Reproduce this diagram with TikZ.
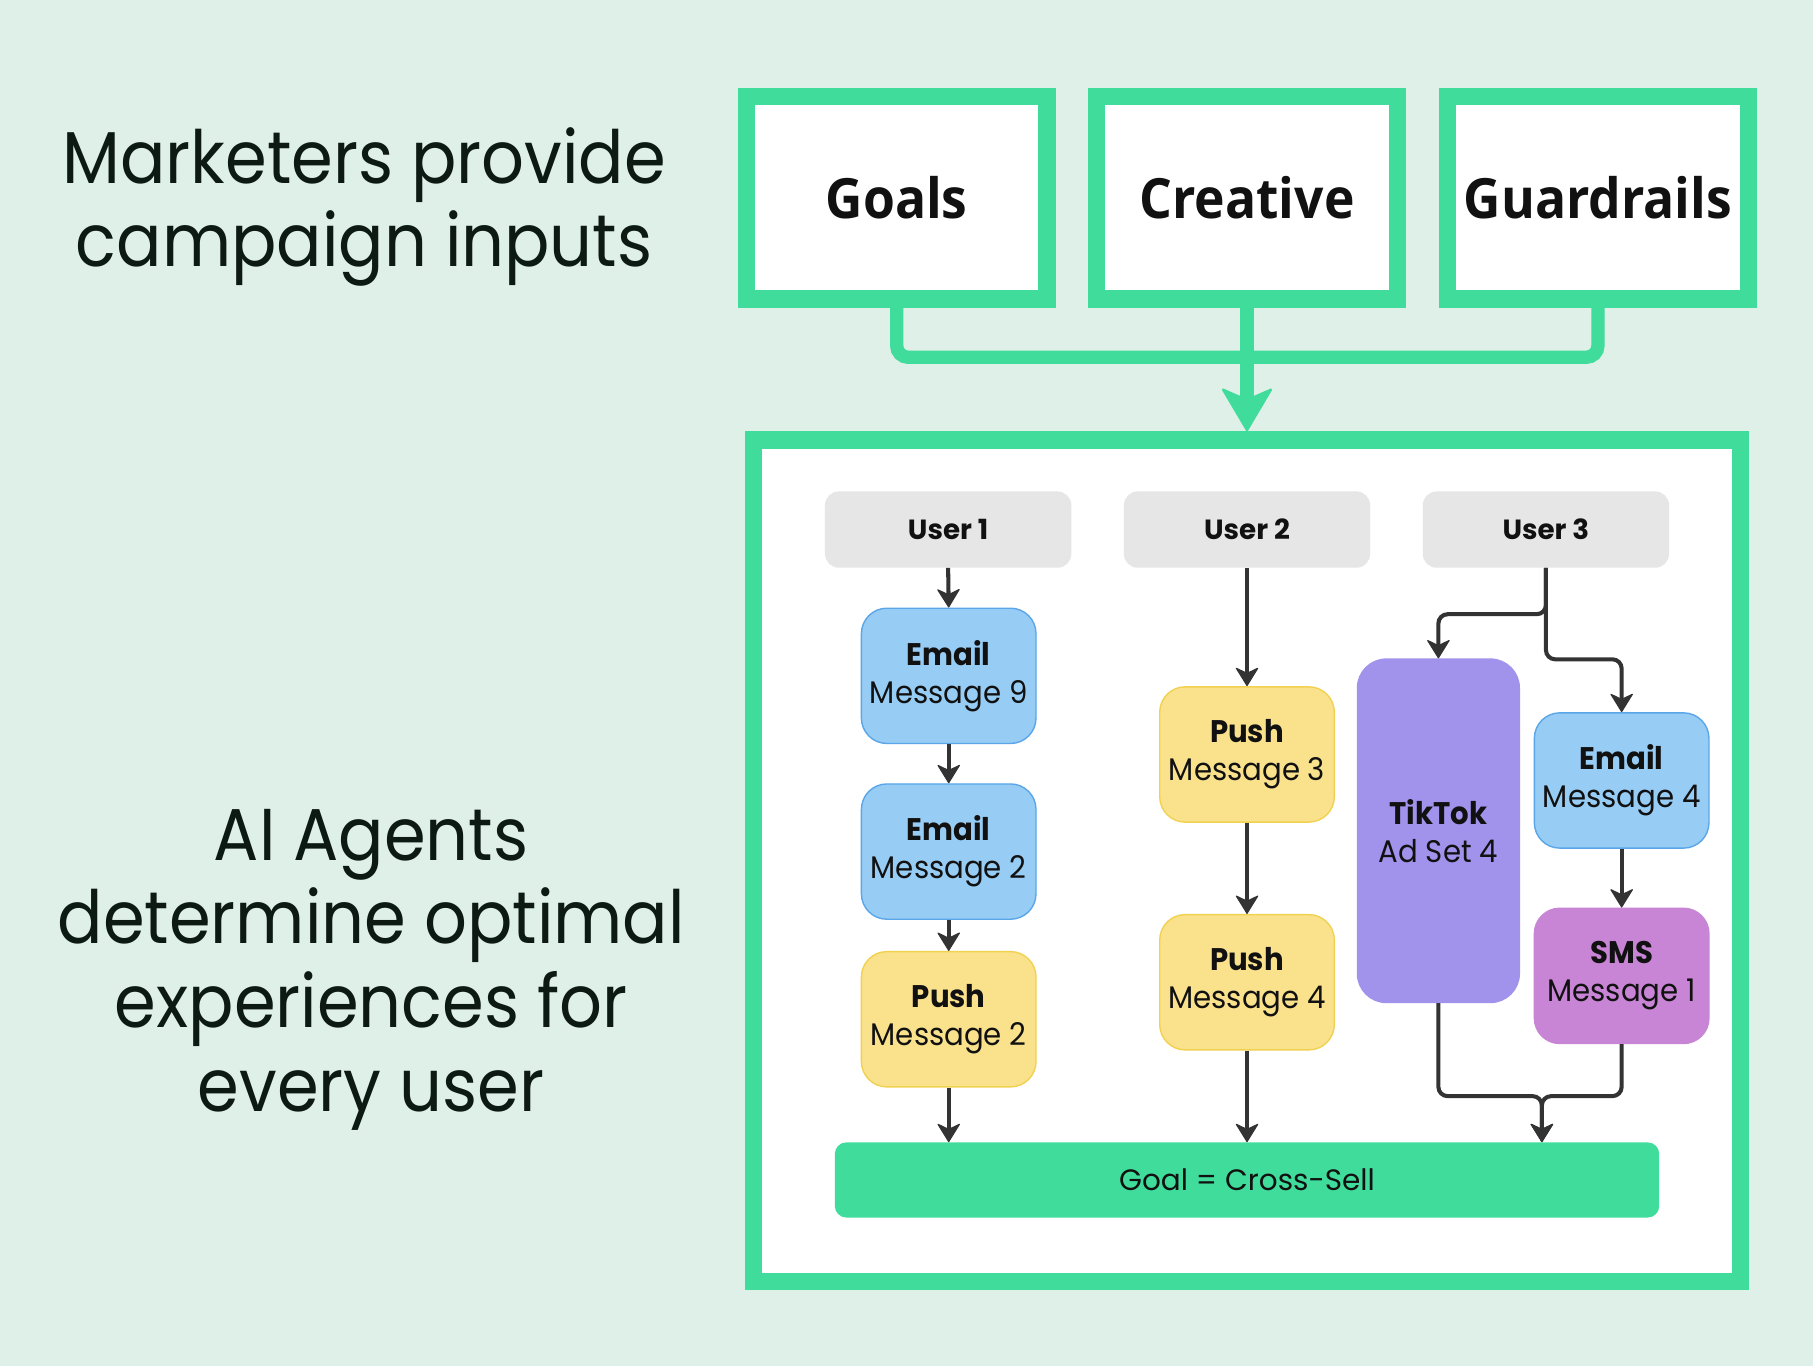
\documentclass[tikz,border=0pt]{standalone}
\usepackage{fontspec}
\setmainfont{Poppins}[FakeStretch=0.935]
\newfontfamily\widefont{Poppins}
\newfontfamily\leftfont{Poppins}[FakeStretch=0.915]
\newfontfamily\headfont{Open Sans}[FakeStretch=0.93]
\usetikzlibrary{arrows.meta}
\definecolor{bg}{HTML}{DFF0E8}
\definecolor{mint}{HTML}{40DC9C}
\definecolor{emailfill}{HTML}{97CCF5}
\definecolor{emailline}{HTML}{5AA6E8}
\definecolor{pushfill}{HTML}{FAE28D}
\definecolor{pushline}{HTML}{F1D150}
\definecolor{tiktokfill}{HTML}{A193EC}
\definecolor{smsfill}{HTML}{C985D5}
\definecolor{usergray}{HTML}{E6E6E6}
\definecolor{arrowc}{HTML}{333333}
\definecolor{ink}{HTML}{111111}
\definecolor{leftink}{HTML}{0D1A14}
\tikzset{
  lefttext/.style={anchor=base, text=leftink, inner sep=0pt, font=\leftfont\fontsize{63.5}{72}\selectfont},
  inputbox/.style={draw=mint, line width=15pt, fill=white, minimum width=260pt, minimum height=175pt, inner sep=0pt, text=ink, font=\headfont\bfseries\fontsize{48}{52}\selectfont},
  userbox/.style={fill=usergray, rounded corners=12pt, minimum width=213pt, minimum height=66pt, inner sep=0pt, text=ink, font=\widefont\bfseries\fontsize{24}{28}\selectfont},
  msgbox/.style={rounded corners=22pt, minimum width=151pt, minimum height=117pt, inner sep=0pt, align=center, line width=1.2pt, text=ink, font=\fontsize{27}{33}\selectfont},
  emailbox/.style={msgbox, fill=emailfill, draw=emailline},
  pushbox/.style={msgbox, fill=pushfill, draw=pushline},
  smsbox/.style={msgbox, fill=smsfill, draw=smsfill},
  tiktokbox/.style={msgbox, fill=tiktokfill, draw=tiktokfill, rounded corners=25pt, minimum width=140pt, minimum height=297pt},
  flow/.style={draw=arrowc, line width=3.5pt, rounded corners=8pt, -{Stealth[length=17pt, width=21pt, inset=5pt, line width=1pt, round]}},
  feed/.style={draw=mint, line width=11.5pt, rounded corners=10pt},
}
\begin{document}
\begin{tikzpicture}[x=1pt, y=-1pt]
\useasboundingbox (0,0) rectangle (1568,1181);
\fill[bg] (0,0) rectangle (1568,1181);

% left texts
\node[lefttext] (t1) at (315,158.5) {Marketers provide};
\node[lefttext] (t2) at (315,230.6) {campaign inputs};
\node[lefttext] (t3) at (321,744) {AI Agents};
\node[lefttext] (t4) at (321,816) {determine optimal};
\node[lefttext] (t5) at (321,889) {experiences for};
\node[lefttext] (t6) at (321,961.5) {every user};

% input boxes
\node[inputbox] (goals) at (775.5,171) {Goals};
\node[inputbox] (creative) at (1078.5,171) {Creative};
\node[inputbox] (guard) at (1382,171) {Guardrails};

% panel
\node[draw=mint, line width=15pt, fill=white, minimum width=854pt, minimum height=728pt, inner sep=0pt] (panel) at (1078.5,744.5) {};

% feed connectors
\draw[feed] (goals.south) -- (goals.south |- 0,309) -| (guard.south);
\draw[feed, -{Stealth[length=39pt, width=46pt, inset=10pt, line width=2pt, round]}] (creative.south) -- (creative.south |- panel.north);

% users
\node[userbox] (u1) at (820,458) {User 1};
\node[userbox] (u2) at (1078.5,458) {User 2};
\node[userbox] (u3) at (1337,458) {User 3};

% column 1
\node[emailbox] (e9) at (820.5,584.5) {{\bfseries Email}\\Message 9};
\node[emailbox] (e2) at (820.5,736.5) {{\bfseries Email}\\Message 2};
\node[pushbox] (p2) at (820.5,881.5) {{\bfseries Push}\\Message 2};

% column 2
\node[pushbox] (p3) at (1078.5,652.5) {{\bfseries Push}\\Message 3};
\node[pushbox] (p4) at (1078.5,849.5) {{\bfseries Push}\\Message 4};

% column 3
\node[tiktokbox] (tt) at (1244,718.5) {{\bfseries TikTok}\\Ad Set 4};
\node[emailbox] (e4) at (1402.5,675) {{\bfseries Email}\\Message 4};
\node[smsbox] (sms) at (1402.5,844) {{\bfseries SMS}\\Message 1};

% goal bar
\node[fill=mint, rounded corners=10pt, minimum width=713pt, minimum height=65pt, inner sep=0pt, text=ink, font=\widefont\fontsize{25.5}{30}\selectfont] (goal) at (1078.5,1020.5) {Goal = Cross-Sell};

% flows
\draw[flow] (u1.south) -- (e9.north);
\draw[flow] (e9.south) -- (e2.north);
\draw[flow] (e2.south) -- (p2.north);
\draw[flow] (p2.south) -- (p2.south |- goal.north);

\draw[flow] (u2.south) -- (p3.north);
\draw[flow] (p3.south) -- (p4.north);
\draw[flow] (p4.south) -- (p4.south |- goal.north);

\draw[flow] (u3.south) -- ++(0,40) -| (tt.north);
\draw[flow] (u3.south) -- ++(0,79) -| (e4.north);
\draw[flow] (e4.south) -- (sms.north);

\coordinate (mg) at (1333.5,948);
\draw[flow] (tt.south) |- (mg) -- (mg |- goal.north);
\draw[flow] (sms.south) |- (mg) -- (mg |- goal.north);
\end{tikzpicture}
\end{document}
